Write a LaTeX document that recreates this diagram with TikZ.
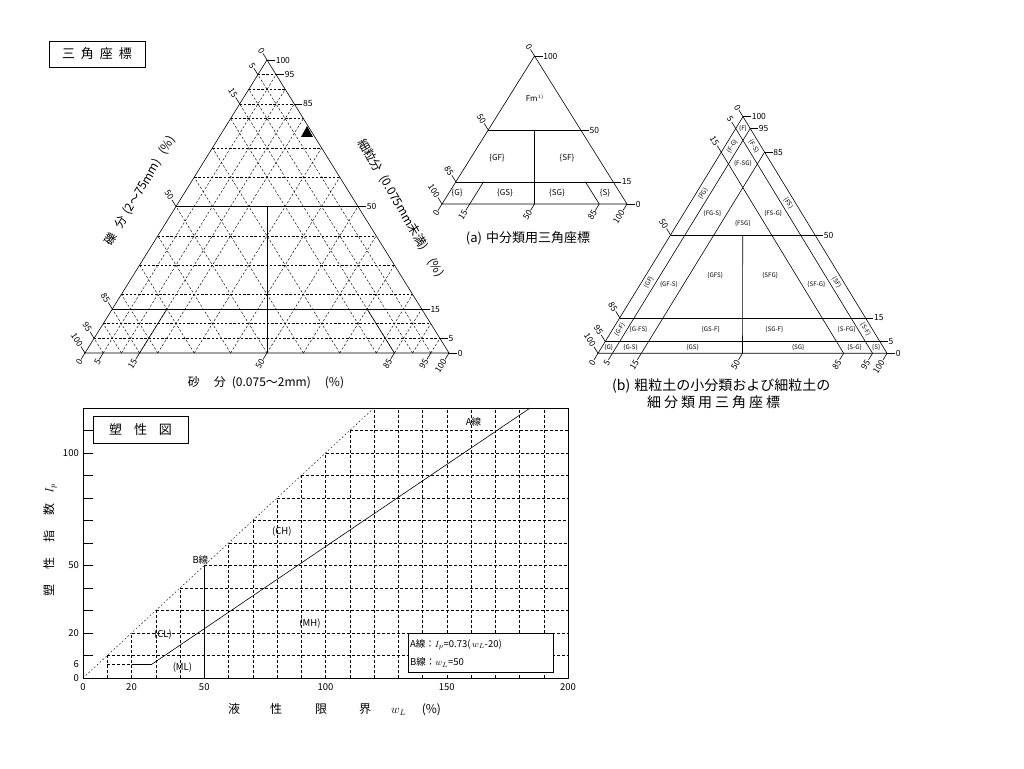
\documentclass[tikz,border=0pt]{standalone}
\usepackage{fontspec}
\setmainfont{Noto Sans CJK JP}
\usetikzlibrary{calc}
\newcommand{\tp}[4]{(barycentric cs:#1L=#2/100,#1R=#3/100,#1T=#4/100)}

\begin{document}
\begin{tikzpicture}[x=1pt,y=1pt,
   tline/.style={line width=0.6pt},
   tdash/.style={line width=0.45pt,dash pattern=on 2.4pt off 1.8pt},
   pdash/.style={line width=0.45pt,dash pattern=on 3pt off 2pt},
   udash/.style={line width=0.45pt,dash pattern=on 1.6pt off 2.2pt},
   tnum/.style={font=\fontsize{8.5}{8.5}\selectfont,inner sep=0.5pt},
   lnum/.style={tnum,rotate=-58,anchor=east},
   bnum/.style={tnum,rotate=58,anchor=east},
   rnum/.style={tnum,anchor=west},
   acls/.style={font=\fontsize{8}{8}\selectfont,inner sep=0pt},
   bcls/.style={font=\fontsize{6.2}{6.2}\selectfont,inner sep=0pt},
   ttl/.style={font=\fontsize{12}{12}\selectfont,inner sep=0pt},
   capt/.style={font=\fontsize{13}{13}\selectfont,inner sep=0pt},
   pnum/.style={font=\fontsize{9.5}{9.5}\selectfont,inner sep=0pt},
   tbox/.style={draw,line width=0.6pt,font=\fontsize{13}{13}\selectfont,inner sep=0pt}]

\useasboundingbox (0,0) rectangle (1024,768);

% ---- triangle coordinates
\coordinate (tL) at (85,415);
\coordinate (tR) at (449,415);
\coordinate (tT) at (267,708);
\coordinate (aL) at (442,564);
\coordinate (aR) at (627,564);
\coordinate (aT) at (534.5,712);
\coordinate (bL) at (598,414.7);
\coordinate (bR) at (887,414.7);
\coordinate (bT) at (743,651.3);

% ---- main triangle
\node[tbox,minimum width=96pt,minimum height=26pt] (tbox) at (97,714) {三\hspace{6pt}角\hspace{6pt}座\hspace{6pt}標};
\foreach \v [evaluate=\v as \w using int(100-\v)] in {5,10,15,20,30,40,50,60,70,80,85,90,95}{
  \draw[tdash] \tp{t}{\w}{0}{\v} -- \tp{t}{0}{\w}{\v};
  \draw[tdash] \tp{t}{\w}{\v}{0} -- \tp{t}{0}{\v}{\w};
  \draw[tdash] \tp{t}{\v}{\w}{0} -- \tp{t}{\v}{0}{\w};
}
\draw[tline] (tL) -- (tR) -- (tT) -- cycle;
\draw[tline] \tp{t}{50}{0}{50} -- \tp{t}{0}{50}{50};
\draw[tline] \tp{t}{85}{0}{15} -- \tp{t}{0}{85}{15};
\draw[tline] \tp{t}{25}{25}{50} -- \tp{t}{50}{50}{0};
\draw[tline] \tp{t}{85}{15}{0} -- \tp{t}{70}{15}{15};
\draw[tline] \tp{t}{15}{85}{0} -- \tp{t}{15}{70}{15};
\foreach \v [evaluate=\v as \w using int(100-\v)] in {0,5,15,50,85,95,100}{
  \draw[tline] \tp{t}{\v}{0}{\w} -- ++(-4,6.5) node[lnum] (tl\v) {\v};
  \draw[tline] \tp{t}{\w}{\v}{0} -- ++(-4,-6.5) node[bnum] (tb\v) {\v};
  \draw[tline] \tp{t}{0}{\w}{\v} -- ++(8,0) node[rnum] (tr\v) {\v};
}
\fill (301,631) -- (313,631) -- (307,642) -- cycle;
\node[ttl,rotate=59] (tgrav) at (140,577) {礫\hspace{8pt}分\hspace{4pt}(2～75mm)\hspace{8pt}(\%)};
\node[ttl,rotate=-59.5] (tfine) at (401,560) {細粒分\hspace{6pt}(0.075mm未満)\hspace{12pt}(\%)};
\node[ttl] (tsand) at (266,385) {砂\hspace{14pt}分\hspace{6pt}(0.075～2mm)\hspace{14pt}(\%)};

% ---- triangle (a)
\draw[tline] (aL) -- (aR) -- (aT) -- cycle;
\draw[tline] \tp{a}{50}{0}{50} -- \tp{a}{0}{50}{50};
\draw[tline] \tp{a}{85}{0}{15} -- \tp{a}{0}{85}{15};
\draw[tline] \tp{a}{25}{25}{50} -- \tp{a}{50}{50}{0};
\draw[tline] \tp{a}{85}{15}{0} -- \tp{a}{70}{15}{15};
\draw[tline] \tp{a}{15}{85}{0} -- \tp{a}{15}{70}{15};
\foreach \v [evaluate=\v as \w using int(100-\v)] in {0,50,85,100}
  \draw[tline] \tp{a}{\v}{0}{\w} -- ++(-4,6.5) node[lnum] (al\v) {\v};
\foreach \v [evaluate=\v as \w using int(100-\v)] in {0,15,50,85,100}
  \draw[tline] \tp{a}{\w}{\v}{0} -- ++(-4,-6.5) node[bnum] (ab\v) {\v};
\foreach \v [evaluate=\v as \w using int(100-\v)] in {100,50,15,0}
  \draw[tline] \tp{a}{0}{\w}{\v} -- ++(8,0) node[rnum] (ar\v) {\v};
\node[acls] (aFm) at (535,670) {Fm$^{\scriptscriptstyle 1)}$};
\node[acls] (aGF) at (497,610) {\{GF\}};
\node[acls] (aSF) at (567,610) {\{SF\}};
\node[acls] (aG)  at (457,575) {\{G\}};
\node[acls] (aGS) at (505,575) {\{GS\}};
\node[acls] (aSG) at (557,575) {\{SG\}};
\node[acls] (aS)  at (605,575) {\{S\}};
\node[capt] (acap) at (528,530) {(a)\hspace{4pt}中分類用三角座標};

% ---- triangle (b)
\draw[tline] (bL) -- (bR) -- (bT) -- cycle;
\foreach \v [evaluate=\v as \w using int(100-\v)] in {5,15,50}
  \draw[tline] \tp{b}{\w}{0}{\v} -- \tp{b}{0}{\w}{\v};
\foreach \v [evaluate=\v as \w using int(100-\v)] in {5,15}{
  \draw[tline] \tp{b}{\w}{\v}{0} -- \tp{b}{0}{\v}{\w};
  \draw[tline] \tp{b}{\v}{\w}{0} -- \tp{b}{\v}{0}{\w};
}
\draw[tline] \tp{b}{25}{25}{50} -- \tp{b}{50}{50}{0};
\foreach \v [evaluate=\v as \w using int(100-\v)] in {0,5,15,50,85,95,100}{
  \draw[tline] \tp{b}{\v}{0}{\w} -- ++(-4,6.5) node[lnum] (bl\v) {\v};
  \draw[tline] \tp{b}{\w}{\v}{0} -- ++(-4,-6.5) node[bnum] (bb\v) {\v};
  \draw[tline] \tp{b}{0}{\w}{\v} -- ++(8,0) node[rnum] (br\v) {\v};
}
\node[bcls] (bF) at \tp{b}{2.5}{2.5}{95} {\{F\}};
\node[bcls,rotate=58] (bF-G) at \tp{b}{10}{2.5}{87.5} {\{F-G\}};
\node[bcls,rotate=-58] (bF-S) at \tp{b}{2.5}{10}{87.5} {\{F-S\}};
\node[bcls] (bF-SG) at \tp{b}{10}{10}{80} {\{F-SG\}};
\node[bcls,rotate=58] (bFG) at \tp{b}{30}{2.5}{67.5} {\{FG\}};
\node[bcls] (bFG-S) at \tp{b}{31}{10}{59} {\{FG-S\}};
\node[bcls,rotate=-58] (bFS) at \tp{b}{2.5}{34}{63.5} {\{FS\}};
\node[bcls] (bFS-G) at \tp{b}{10}{31}{59} {\{FS-G\}};
\node[bcls] (bFSG) at \tp{b}{22.5}{22.5}{55} {\{FSG\}};
\node[bcls,rotate=58] (bGF) at \tp{b}{67.5}{2.5}{30} {\{GF\}};
\node[bcls] (bGF-S) at \tp{b}{61}{10}{29} {\{GF-S\}};
\node[bcls] (bGFS) at \tp{b}{43}{24}{33} {\{GFS\}};
\node[bcls] (bSFG) at \tp{b}{24}{43}{33} {\{SFG\}};
\node[bcls] (bSF-G) at \tp{b}{10}{61}{29} {\{SF-G\}};
\node[bcls,rotate=-58] (bSF) at \tp{b}{2.5}{67.5}{30} {\{SF\}};
\node[bcls,rotate=58] (bG-F) at \tp{b}{87.5}{2.5}{10} {\{G-F\}};
\node[bcls] (bG-FS) at \tp{b}{81}{9}{10} {\{G-FS\}};
\node[bcls] (bGS-F) at \tp{b}{56}{34}{10} {\{GS-F\}};
\node[bcls] (bSG-F) at \tp{b}{34}{56}{10} {\{SG-F\}};
\node[bcls] (bS-FG) at \tp{b}{9}{81}{10} {\{S-FG\}};
\node[bcls,rotate=-58] (bS-F) at \tp{b}{2.5}{87.5}{10} {\{S-F\}};
\node[bcls] (bG) at \tp{b}{95}{2.5}{2.5} {\{G\}};
\node[bcls] (bG-S) at \tp{b}{87.5}{10}{2.5} {\{G-S\}};
\node[bcls] (bGS) at \tp{b}{66}{31.5}{2.5} {\{GS\}};
\node[bcls] (bSG) at \tp{b}{29.5}{68}{2.5} {\{SG\}};
\node[bcls] (bS-G) at \tp{b}{10}{87.5}{2.5} {\{S-G\}};
\node[bcls] (bS) at \tp{b}{2.5}{95}{2.5} {\{S\}};
\node[capt,font=\fontsize{14}{14}\selectfont,anchor=west] (bcap1) at (612,382) {(b)\hspace{4pt}粗粒土の小分類および細粒土の};
\node[capt,font=\fontsize{14}{14}\selectfont,anchor=west] (bcap2) at (647,366)
  {細\hspace{3pt}分\hspace{3pt}類\hspace{3pt}用\hspace{3pt}三\hspace{3pt}角\hspace{3pt}座\hspace{3pt}標};

% ---- plasticity chart
\node[tbox,minimum width=95pt,minimum height=27pt] (pbox) at (140.5,338.5) {塑\hspace{12pt}性\hspace{12pt}図};
\begin{scope}[shift={(83pt,90pt)},x=2.425pt,y=2.25pt]
  \foreach \k [evaluate={\k as \h using min(\k,120)}] in {10,20,...,190}
    \draw[pdash] (\k,0) -- (\k,\h);
  \foreach \k in {10,20,...,110}{
    \draw[pdash] (\k,\k) -- (200,\k);
    \draw[tline] (0,\k) -- (4,\k);
  }
  \draw[udash] (0,0) -- (120,120);
  \draw[pdash] (10,6) -- (20,6);
  \draw[tline] (20,6) -- (28.22,6) -- (184.38,120);
  \draw[tline] (50,0) -- (50,50);
  \draw[tline] (0,0) rectangle (200,120);
  \foreach \k in {0,6,20,50,100}
    \node[pnum,anchor=east] (py\k) at ([xshift=-4pt]0,\k) {\k};
  \foreach \k in {0,20,50,100,150,200}
    \node[pnum,anchor=north] (px\k) at ([yshift=-5pt]\k,0) {\k};
  \node[pnum] (pCL) at (33,19.5) {(CL)};
  \node[pnum] (pML) at (41,4.5) {(ML)};
  \node[pnum] (pCH) at (82,65) {(CH)};
  \node[pnum] (pMH) at (93.6,24.4) {(MH)};
  \node[pnum] (pA) at (161,114) {A線};
  \node[pnum] (pB) at (48.4,52.4) {B線};
  \node[draw,fill=white,line width=0.6pt,minimum width=145pt,minimum height=39pt,
        anchor=south west,inner sep=0pt] (legend) at (134,2.2) {};
  \node[pnum,anchor=west] (legA) at ($(legend.west)+(2pt,9pt)$) {A線：$I_p$=0.73(\,$w_L$-20)};
  \node[pnum,anchor=west] (legB) at ($(legend.west)+(2pt,-9pt)$) {B線：$w_L$=50};
\end{scope}
\node[font=\fontsize{12}{12}\selectfont,rotate=90,inner sep=0pt] (pyttl) at (50,228)
  {塑\hspace{15pt}性\hspace{15pt}指\hspace{15pt}数\hspace{10pt}$I_p$};
\node[font=\fontsize{12}{12}\selectfont,anchor=west,inner sep=0pt] (pxttl) at (228,58)
  {液\hspace{30pt}性\hspace{33pt}限\hspace{32pt}界\hspace{20pt}$w_L$\hspace{16pt}(\%)};
\end{tikzpicture}
\end{document}
